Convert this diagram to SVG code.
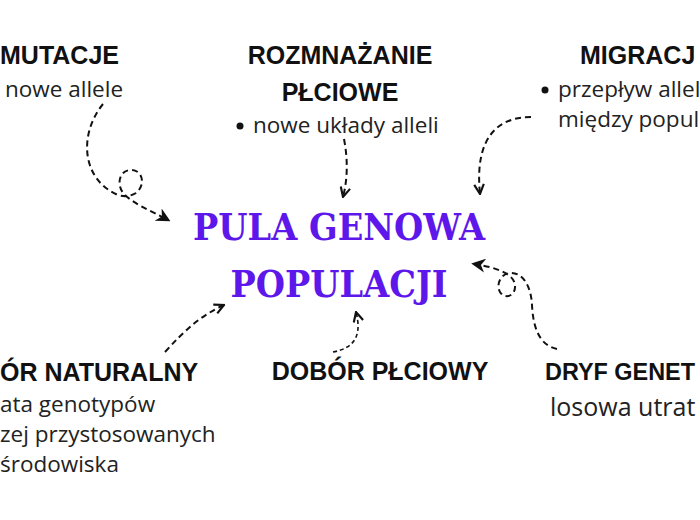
<svg xmlns="http://www.w3.org/2000/svg" width="700" height="520" viewBox="0 0 700 520">
<defs>
<style>
.h{font-family:"Liberation Sans",Arial,sans-serif;font-weight:bold;font-size:25px;fill:#111}
.b{font-family:"Open Sans","Noto Sans",sans-serif;font-size:22.5px;fill:#222}
.t{font-family:"DejaVu Serif","DejaVu Serif Condensed","Liberation Serif",serif;font-weight:bold;font-size:37px;fill:#5E17EB}
.c{fill:none;stroke:#111;stroke-width:2;stroke-dasharray:6 4}
.thin{stroke-width:1.6;stroke-dasharray:4 3}
</style>
<marker id="tri2" viewBox="0 0 10 10" refX="8" refY="5" markerWidth="14" markerHeight="14" markerUnits="userSpaceOnUse" orient="auto">
<path d="M0,0 L10,5 L0,10 L3,5 Z" fill="#111"/>
</marker>
<marker id="vee" viewBox="0 0 10 10" refX="9" refY="5" markerWidth="12" markerHeight="12" markerUnits="userSpaceOnUse" orient="auto">
<path d="M1,1 L9,5 L1,9" fill="none" stroke="#111" stroke-width="1.8"/>
</marker>
</defs>
<rect width="700" height="520" fill="#fff"/>
<g id="connectors">
<path class="c" d="M103,104 C78,135 82,180 118,195 Q128,198 136,193 C146,185 143,170 131,170 C119,170 116,185 124,194 C135,205 150,210 168,220" marker-end="url(#tri2)"/>
<path class="c" d="M344,139 Q350,170 343,197" marker-end="url(#vee)"/>
<path class="c" d="M531,117 C500,117 474,135 480,194" marker-end="url(#vee)"/>
<path class="c" d="M557,349 C538,345 533,325 532,305 C531,285 522,272 510,273 C500,274 496,285 500,292 C505,300 516,296 515,285 C514,275 500,268 474,264" marker-end="url(#tri2)"/>
<path class="c" d="M165,352 C185,330 200,316 224,305" marker-end="url(#vee)"/>
<path class="c thin" d="M333,352 C355,348 362,335 356,312" marker-end="url(#vee)"/>
</g>
<g id="center">
<text class="t" x="339" y="240" text-anchor="middle" textLength="292" lengthAdjust="spacingAndGlyphs">PULA GENOWA</text>
<text class="t" x="339" y="297" text-anchor="middle" textLength="217" lengthAdjust="spacingAndGlyphs">POPULACJI</text>
</g>
<g id="mutacje">
<text class="h" x="0" y="64">MUTACJE</text>
<text class="b" x="5" y="97">nowe allele</text>
</g>
<g id="rozmnazanie">
<text class="h" x="340" y="64" text-anchor="middle">ROZMNAŻANIE</text>
<text class="h" x="340" y="101" text-anchor="middle">PŁCIOWE</text>
<circle cx="240" cy="126" r="3.5" fill="#111"/>
<text class="b" x="253" y="133">nowe układy alleli</text>
</g>
<g id="migracje">
<text class="h" x="580" y="64">MIGRACJ</text>
<circle cx="545" cy="90" r="3.5" fill="#111"/>
<text class="b" x="558" y="97">przepływ allel</text>
<text class="b" x="558" y="127">między popul</text>
</g>
<g id="dobor-naturalny">
<text class="h" x="0" y="381">ÓR NATURALNY</text>
<text class="b" x="0" y="412">ata genotypów</text>
<text class="b" x="0" y="442">zej przystosowanych</text>
<text class="b" x="0" y="472">środowiska</text>
</g>
<g id="dobor-plciowy">
<text class="h" x="380" y="380" text-anchor="middle">DOBÓR PŁCIOWY</text>
</g>
<g id="dryf">
<text class="h" x="545" y="380" style="font-size:24px" textLength="150" lengthAdjust="spacingAndGlyphs">DRYF GENET</text>
<text class="b" x="550" y="416" style="font-size:25px">losowa utrat</text>
</g>
</svg>
